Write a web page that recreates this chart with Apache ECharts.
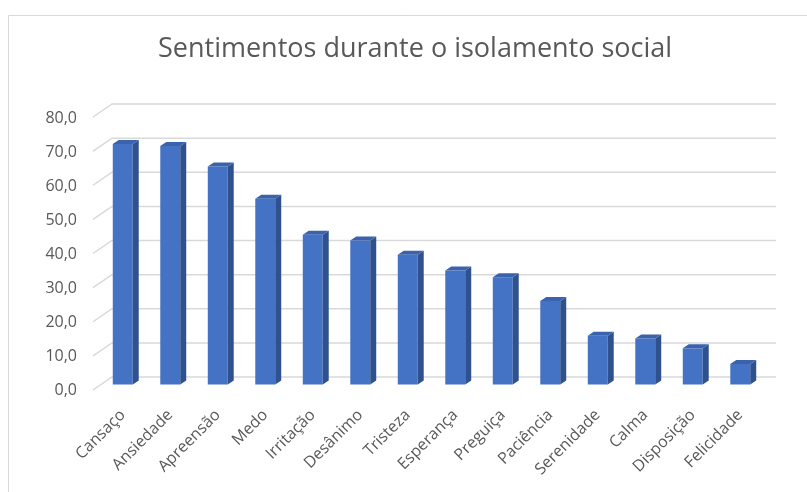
<!DOCTYPE html>
<html>
<head>
<meta charset="utf-8">
<script src="https://cdn.jsdelivr.net/npm/echarts@6/dist/echarts.min.js"></script>
<style>
html,body{margin:0;padding:0;background:#fff;}
#chart{width:807px;height:492px;}
</style>
</head>
<body>
<div id="chart"></div>
<script>
const titleText = 'Sentimentos durante o isolamento social';
const categories = ['Cansaço','Ansiedade','Apreensão','Medo','Irritação','Desânimo','Tristeza','Esperança','Preguiça','Paciência','Serenidade','Calma','Disposição','Felicidade'];
const values = [70.5, 69.9, 63.9, 54.4, 43.9, 42.2, 38.0, 33.4, 31.4, 24.5, 14.3, 13.5, 10.6, 6.0];
const yTicks = [0, 10, 20, 30, 40, 50, 60, 70, 80];

const FONT = '"Open Sans", "Noto Sans", sans-serif';
const TEXT = '#595959';

const chart = echarts.init(document.getElementById('chart'), null, {renderer: 'canvas'});

const option = {
  backgroundColor: '#fff',
  animation: false,
  title: {
    text: titleText,
    left: 153,
    top: 31,
    textStyle: {fontFamily: FONT, fontSize: 27, fontWeight: 'normal', color: TEXT}
  },
  graphic: [
    {type: 'line', shape: {x1: 8.5, y1: 15.5, x2: 807, y2: 15.5}, style: {stroke: '#d9d9d9', lineWidth: 1}},
    {type: 'line', shape: {x1: 8.5, y1: 15.5, x2: 8.5, y2: 492}, style: {stroke: '#d9d9d9', lineWidth: 1}}
  ],
  grid: [
    // front plane: value labels
    {left: 99, right: 43, top: 118, bottom: 102},
    // bars plane (mid depth)
    {left: 99, right: 43, top: 111.5, bottom: 107.5},
    // back wall
    {left: 112, right: 31, top: 104, bottom: 115}
  ],
  xAxis: [
    {gridIndex: 0, type: 'value', min: 0, max: 1, show: false},
    {gridIndex: 1, type: 'category', data: categories,
      axisLine: {show: false}, axisTick: {show: false},
      axisLabel: {interval: 0, rotate: 45, margin: 28, color: TEXT, fontFamily: FONT, fontSize: 16}},
    {gridIndex: 2, type: 'value', min: 0, max: 1, show: false}
  ],
  yAxis: [
    {gridIndex: 0, type: 'value', min: 0, max: 80, interval: 10,
      axisLine: {show: false}, axisTick: {show: false}, splitLine: {show: false},
      axisLabel: {margin: 22, color: TEXT, fontFamily: FONT, fontSize: 16,
        formatter: v => v.toFixed(1).replace('.', ',')}},
    {gridIndex: 1, type: 'value', min: 0, max: 80, interval: 10, show: false, splitLine: {show: false}},
    {gridIndex: 2, type: 'value', min: 0, max: 80, interval: 10, show: false, splitLine: {show: false}}
  ],
  series: [
    {
      type: 'custom', xAxisIndex: 2, yAxisIndex: 2, z: 1, silent: true,
      data: yTicks.map(t => [0, t]),
      renderItem: function (params, api) {
        const t = api.value(1);
        const a = api.coord([0, t]);
        const b = api.coord([1, t]);
        return {
          type: 'polyline',
          shape: {points: [[a[0] - 19, a[1] + 13], a, b]},
          style: {stroke: '#d9d9d9', lineWidth: 1.5, fill: null}
        };
      }
    },
    {
      type: 'custom', xAxisIndex: 1, yAxisIndex: 1, z: 3,
      data: values.map((v, i) => [i, v]),
      renderItem: function (params, api) {
        const i = api.value(0), v = api.value(1);
        const top = api.coord([i, v]);
        const base = api.coord([i, 0]);
        const w = api.size([1, 0])[0] * 0.42;
        const dx = 6, dy = 4;
        const x0 = top[0] - w / 2;
        const x1 = x0 + w;
        return {
          type: 'group',
          children: [
            {type: 'rect', shape: {x: x0, y: top[1], width: w, height: base[1] - top[1]},
              style: {fill: '#4472c4'}},
            {type: 'polygon', shape: {points: [[x1, top[1]], [x1 + dx, top[1] - dy], [x1 + dx, base[1] - dy], [x1, base[1]]]},
              style: {fill: '#2f528f'}},
            {type: 'polygon', shape: {points: [[x0, top[1]], [x0 + dx, top[1] - dy], [x1 + dx, top[1] - dy], [x1, top[1]]]},
              style: {fill: '#3a62ad'}}
          ]
        };
      }
    }
  ]
};
chart.setOption(option);
</script>
</body>
</html>
